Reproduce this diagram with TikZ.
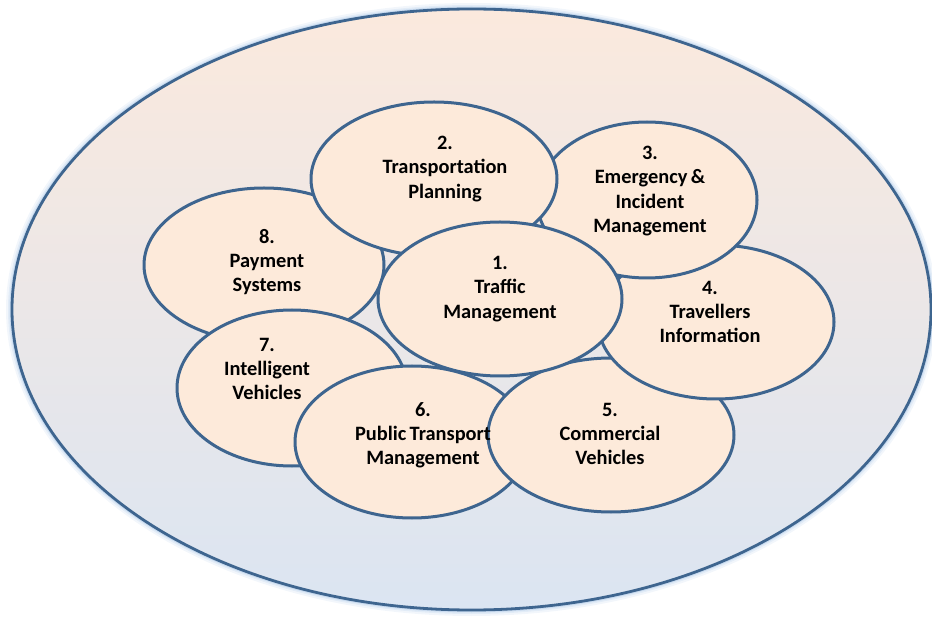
\documentclass[tikz,border=0pt]{standalone}
\usepackage{fontspec}
\setmainfont{Carlito}
\usetikzlibrary{shapes.geometric}
\definecolor{edgeblue}{RGB}{62,101,143}
\definecolor{peach}{RGB}{253,234,218}
\definecolor{topfill}{RGB}{251,233,221}
\definecolor{bottomfill}{RGB}{219,229,242}
\definecolor{glowblue}{RGB}{150,185,225}

\begin{document}
\begin{tikzpicture}[x=1pt, y=-1pt,
    bubble/.style={ellipse, draw=edgeblue, fill=peach, line width=3pt, inner sep=0pt},
    area/.style={align=center, text=black, font=\bfseries\fontsize{20.4}{24.2}\selectfont}]
  \useasboundingbox (0,0) rectangle (932,617);
  % outer ring with soft glow
  \foreach \w/\o in {12/0.12, 8/0.18, 5/0.3} {
    \draw[glowblue, line width=\w pt, opacity=\o] (471.5,309.5) ellipse [x radius=459.5, y radius=300.5];
  }
  \shade[top color=topfill, bottom color=bottomfill] (471.5,309.5) ellipse [x radius=459.5, y radius=300.5];
  \draw[edgeblue, line width=2.8pt] (471.5,309.5) ellipse [x radius=459.5, y radius=300.5];
  % bubbles, back to front
  \foreach \name/\x/\y/\w/\h in {payment/264/265/240/154, vehicles/292/388/230/156,
      publictr/412/442/234/152, commercial/611/435/246/154, travellers/716/322/236/154,
      emergency/647/200/220/156, planning/434/179/246/154, traffic/500/299/244/154} {
    \node[bubble, minimum width=\w pt, minimum height=\h pt] (\name) at (\x,\y) {};
  }
  % labels on top
  \node[area] (lbl-traffic) at (500,289) {1.\\Traffic\\Management};
  \node[area] (lbl-planning) at (445,169) {2.\\Transportation\\Planning};
  \node[area] (lbl-emergency) at (650,191) {3.\\Emergency\,\&\\Incident\\Management};
  \node[area] (lbl-travellers) at (710,312) {4.\\Travellers\\Information};
  \node[area] (lbl-commercial) at (610,434) {5.\\Commercial\\Vehicles};
  \node[area] (lbl-publictr) at (423,435) {6.\\Public\,Transport\\Management};
  \node[area] (lbl-vehicles) at (267,369) {7.\\Intelligent\\Vehicles};
  \node[area] (lbl-payment) at (267,262) {8.\\Payment\\Systems};
\end{tikzpicture}
\end{document}
